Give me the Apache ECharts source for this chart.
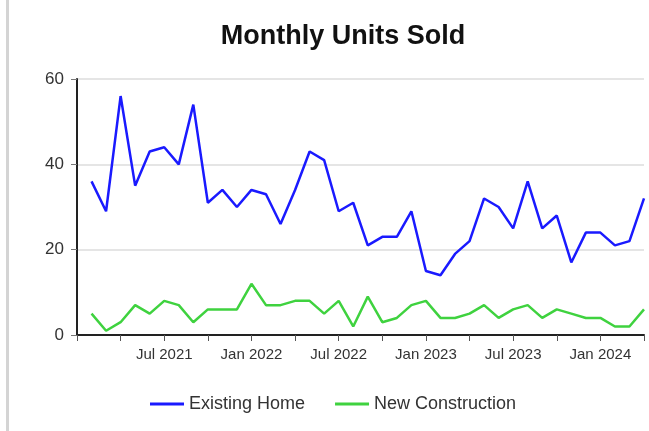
<!DOCTYPE html>
<html>
<head>
<meta charset="utf-8">
<script src="https://cdn.jsdelivr.net/npm/echarts@6/dist/echarts.min.js"></script>
<style>
  html, body { margin: 0; padding: 0; background: #fff; }
  #chart { width: 649px; height: 431px; }
</style>
</head>
<body>
<div id="chart"></div>
<script>
// months shown on the axis (Jan 2021 is only the axis start, no data)
const months = [
  "Jan 2021", "Feb 2021", "Mar 2021", "Apr 2021", "May 2021", "Jun 2021",
  "Jul 2021", "Aug 2021", "Sep 2021", "Oct 2021", "Nov 2021", "Dec 2021",
  "Jan 2022", "Feb 2022", "Mar 2022", "Apr 2022", "May 2022", "Jun 2022",
  "Jul 2022", "Aug 2022", "Sep 2022", "Oct 2022", "Nov 2022", "Dec 2022",
  "Jan 2023", "Feb 2023", "Mar 2023", "Apr 2023", "May 2023", "Jun 2023",
  "Jul 2023", "Aug 2023", "Sep 2023", "Oct 2023", "Nov 2023", "Dec 2023",
  "Jan 2024", "Feb 2024", "Mar 2024", "Apr 2024"
];
const existingHome = [
  null, 36, 29, 56, 35, 43, 44, 40, 54, 31, 34, 30,
  34, 33, 26, 34, 43, 41, 29, 31, 21, 23, 23, 29,
  15, 14, 19, 22, 32, 30, 25, 36, 25, 28, 17, 24,
  24, 21, 22, 32
];
const newConstruction = [
  null, 5, 1, 3, 7, 5, 8, 7, 3, 6, 6, 6,
  12, 7, 7, 8, 8, 5, 8, 2, 9, 3, 4, 7,
  8, 4, 4, 5, 7, 4, 6, 7, 4, 6, 5, 4,
  4, 2, 2, 6
];
const yTicks = [0, 20, 40, 60];

const myChart = echarts.init(document.getElementById("chart"));
myChart.setOption({
  animation: false,
  backgroundColor: "#fff",
  textStyle: { fontFamily: "Liberation Sans, Arial, sans-serif" },
  title: {
    text: "Monthly Units Sold",
    left: 338,
    textAlign: "center",
    top: 18,
    textStyle: { fontSize: 27, fontWeight: "bold", color: "#111" },
  },
  graphic: [
    {
      type: "rect",
      shape: { x: 6, y: 0, width: 3, height: 431 },
      style: { fill: "#d4d4d4" },
    },
  ],
  legend: {
    top: 390,
    left: 145,
    itemWidth: 34,
    itemHeight: 3,
    itemGap: 30,
    icon: "rect",
    textStyle: { fontSize: 18, color: "#333" },
    data: ["Existing Home", "New Construction"],
  },
  grid: { left: 77, right: 5, top: 79, bottom: 96 },
  xAxis: {
    type: "category",
    boundaryGap: false,
    data: months,
    axisLine: { lineStyle: { color: "#222", width: 2 } },
    axisTick: {
      interval: (i) => i % 3 === 0,
      length: 6,
      lineStyle: { color: "#555", width: 1 },
    },
    axisLabel: {
      interval: (i) => i % 6 === 0 && i > 0,
      fontSize: 15,
      color: "#333",
      margin: 12,
    },
  },
  yAxis: {
    type: "value",
    min: yTicks[0],
    max: yTicks[yTicks.length - 1],
    interval: 20,
    axisLine: { show: true, lineStyle: { color: "#222", width: 2 } },
    axisTick: { show: true, length: 6, lineStyle: { color: "#777" } },
    axisLabel: { fontSize: 17, color: "#333", margin: 13 },
    splitLine: { lineStyle: { color: "#dcdcdc", width: 1.5 } },
  },
  series: [
    {
      name: "Existing Home",
      type: "line",
      data: existingHome,
      symbol: "none",
      color: "#1a1aff",
      lineStyle: { width: 2.5 },
    },
    {
      name: "New Construction",
      type: "line",
      data: newConstruction,
      symbol: "none",
      color: "#3fd23f",
      lineStyle: { width: 2.5 },
    },
  ],
});
</script>
</body>
</html>
